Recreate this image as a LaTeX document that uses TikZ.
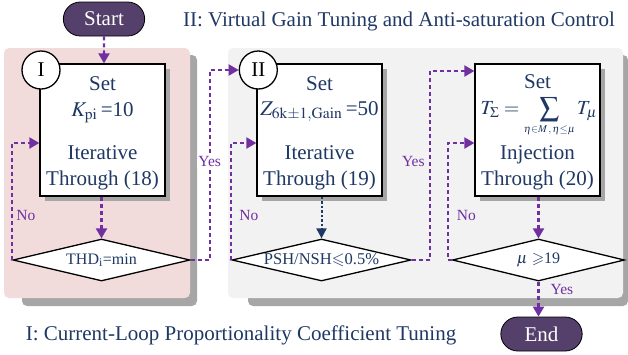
\documentclass[tikz,border=0pt]{standalone}
\usepackage{mathptmx}
\usepackage{amssymb}
\usepackage{fontspec}
\setmainfont{Liberation Serif}
\usetikzlibrary{shapes.geometric,shapes.misc,shadows,arrows.meta,calc,positioning}

\definecolor{navytext}{HTML}{1F3864}
\definecolor{flowpurple}{HTML}{7030A0}
\definecolor{termfill}{HTML}{54406B}
\definecolor{regionpink}{HTML}{F2DCDB}
\definecolor{regiongray}{HTML}{F2F2F2}
\definecolor{shadowgray}{HTML}{A6A6A6}

\tikzset{
  stepbox/.style={draw, line width=1.3pt, fill=white, minimum width=125pt, minimum height=132pt,
    drop shadow={shadow xshift=5pt, shadow yshift=-5pt, fill=shadowgray, opacity=1}},
  numcirc/.style={circle, draw, line width=1.3pt, fill=white, minimum size=38pt, inner sep=0pt,
    font=\fontsize{21}{24}\selectfont},
  decision/.style={diamond, draw, line width=1.3pt, fill=white, shape aspect=4.2, inner sep=0pt,
    minimum height=42pt, text=navytext, font=\fontsize{16}{18}\selectfont},
  terminal/.style={rounded rectangle, draw, line width=0.8pt, fill=termfill, text=white,
    minimum width=88pt, minimum height=34pt, font=\fontsize{21}{24}\selectfont},
  boxtxt/.style={text=navytext, inner sep=0pt, anchor=base, font=\fontsize{21}{24}\selectfont},
  flow/.style={draw=flowpurple, line width=2.2pt, dash pattern=on 4pt off 3pt,
    -{Triangle[length=10pt,width=11pt]}},
  navyflow/.style={draw=navytext, line width=2pt, dash pattern=on 2.5pt off 2pt,
    -{Triangle[length=10pt,width=10pt]}},
  lbl/.style={text=flowpurple, inner sep=1pt, font=\fontsize{15.5}{17}\selectfont}
}

\begin{document}
\begin{tikzpicture}[x=1pt,y=-1pt]
\useasboundingbox (0,0) rectangle (628,354);

% stage regions
\fill[shadowgray, rounded corners=5pt] (22,55) rectangle (197,306);
\fill[regionpink, rounded corners=5pt] (4,48) rectangle (190,298);
\fill[shadowgray, rounded corners=5pt] (248,55) rectangle (628,306);
\fill[regiongray, rounded corners=5pt] (228,48) rectangle (623,298);

\node[boxtxt] (title2) at (399,26.5) {II: Virtual Gain Tuning and Anti-saturation Control};
\node[boxtxt] (title1) at (241,340) {I: Current-Loop Proportionality Coefficient Tuning};

% flow nodes
\node[terminal] (start) at (104,19) {Start};
\node[stepbox] (box1) at (102.5,130) {};
\node[stepbox] (box2) at (319.5,130) {};
\node[stepbox] (box3) at (537.5,130) {};
\node[numcirc] (circ1) at (41,70) {I};
\node[numcirc] (circ2) at (258.3,70) {II};
\node[decision, minimum width=177pt] (dec1) at (101.5,260) {THD\textsubscript{i}=min};
\node[decision, minimum width=179pt, font=\fontsize{16.5}{18}\selectfont] (dec2) at (321.5,260) {PSH/NSH$\leqslant$0.5\%};
\node[decision, minimum width=172pt] (dec3) at (538.5,260) {$\mu$ $\geqslant$19};
\node[terminal] (finish) at (541.5,334) {End};

% texts in the boxes
\node[boxtxt] (set1) at (102.5,90) {Set};
\node[boxtxt] (kpi) at (102.5,116) {$K_{\mathrm{pi}}$\,=10};
\node[boxtxt] (iter1) at (102.5,159) {Iterative};
\node[boxtxt] (thr1) at (102.5,185) {Through (18)};

\node[boxtxt] (set2) at (319.5,90) {Set};
\node[boxtxt] (zgain) at (319.5,115) {$Z_{\mathrm{6k\pm1,Gain}}$\,=50};
\node[boxtxt] (iter2) at (319.5,159) {Iterative};
\node[boxtxt] (thr2) at (319.5,185) {Through (19)};

\node[boxtxt] (set3) at (537.5,88) {Set};
\node[boxtxt, font=\fontsize{20}{22}\selectfont] (tsum) at (539,114)
  {$T_{\Sigma}=\mathop{\vcenter{\hbox{\scalebox{1.4}{$\sum$}}}}\limits_{\mbox{\fontsize{10.5}{12}\selectfont$\eta{\in}M\,,\eta{\leq}\mu$}}T_{\mu}$};
\node[boxtxt] (inj) at (537.5,159) {Injection};
\node[boxtxt] (thr3) at (537.5,185) {Through (20)};

% connectors
\draw[flow] (start) -- (start |- box1.north);
\draw[flow] (dec1.north |- box1.south) -- (dec1.north);
\draw[flow] (dec1.west) |- node[lbl, pos=.19, right=2pt] (no1) {No} ([yshift=-13pt]box1.west);
\draw[flow] (dec1.east) -- ++(19,0) |- node[lbl, pos=.26, fill=white] (yes1) {Yes} (circ2.west);
\draw[navyflow] (dec2.north |- box2.south) -- (dec2.north);
\draw[flow] (dec2.west) |- node[lbl, pos=.19, right=6pt] (no2) {No} ([yshift=-13pt]box2.west);
\draw[flow] (dec2.east) -- ++(18,0) |- node[lbl, pos=.26, left=3pt] (yes2) {Yes} ([yshift=59pt]box3.west);
\draw[flow] (dec3.north |- box3.south) -- (dec3.north);
\draw[flow] (dec3.west) -- ++(-4,0) |- node[lbl, pos=.19, right=7pt] (no3) {No} ([yshift=-13pt]box3.west);
\draw[flow] (dec3.south) -- node[lbl, pos=.22, right=10pt] (yes3) {Yes} (dec3.south |- finish.north);
\end{tikzpicture}
\end{document}
